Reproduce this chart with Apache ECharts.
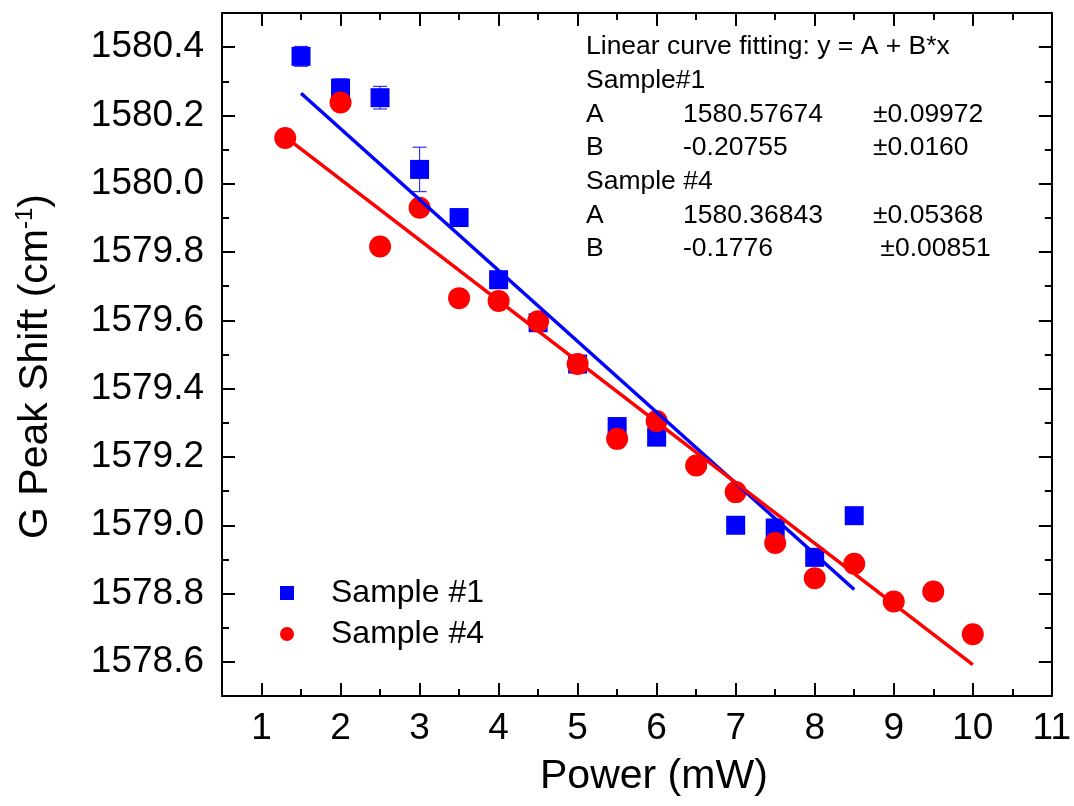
<!DOCTYPE html>
<html>
<head>
<meta charset="utf-8">
<title>G Peak Shift vs Power</title>
<script src="https://cdn.jsdelivr.net/npm/echarts@6/dist/echarts.min.js"></script>
<style>
  html, body { margin: 0; padding: 0; background: #fff; }
  #chart { width: 1074px; height: 806px; }
</style>
</head>
<body>
<div id="chart"></div>
<script>
// power (mW) and G peak position (cm-1)
const s1Power = [1.5, 2, 2.5, 3, 3.5, 4, 4.5, 5, 5.5, 6, 7, 7.5, 8, 8.5];
const s1Shift = [1580.373, 1580.280, 1580.252, 1580.042, 1579.901, 1579.719, 1579.593, 1579.472, 1579.289, 1579.258, 1579.000, 1578.992, 1578.906, 1579.028];
const s1Err = [0.029, 0.027, 0.033, 0.065, 0.01, 0.01, 0.02, 0.022, 0.02, 0.015, 0.01, 0.02, 0.015, 0.01];

const s4Power = [1.3, 2, 2.5, 3, 3.5, 4, 4.5, 5, 5.5, 6, 6.5, 7, 7.5, 8, 8.5, 9, 9.5, 10];
const s4Shift = [1580.134, 1580.238, 1579.816, 1579.930, 1579.665, 1579.657, 1579.597, 1579.472, 1579.253, 1579.305, 1579.175, 1579.097, 1578.948, 1578.845, 1578.887, 1578.777, 1578.806, 1578.681];

// fitted line end points
const s1FitX = [1.5, 8.5];
const s1FitY = [1580.265, 1578.812];
const s4FitX = [1.3, 10];
const s4FitY = [1580.137, 1578.592];

// tick positions
const xMajor = [1, 2, 3, 4, 5, 6, 7, 8, 9, 10, 11];
const xMinor = [1.5, 2.5, 3.5, 4.5, 5.5, 6.5, 7.5, 8.5, 9.5, 10.5];
const yMajor = [1578.6, 1578.8, 1579.0, 1579.2, 1579.4, 1579.6, 1579.8, 1580.0, 1580.2, 1580.4];
const yMinor = [1578.7, 1578.9, 1579.1, 1579.3, 1579.5, 1579.7, 1579.9, 1580.1, 1580.3];

// fit results text
const fitTitle = 'Linear curve fitting: y = A + B*x';
const fitRows = [
  ['Sample#1', '', ''],
  ['A', '1580.57674', '±0.09972'],
  ['B', '-0.20755', '±0.0160'],
  ['Sample #4', '', ''],
  ['A', '1580.36843', '±0.05368'],
  ['B', '-0.1776', ' ±0.00851']
];

const FONT = '"Liberation Sans", Arial, sans-serif';
const pair = (xs, ys) => xs.map((x, i) => [x, ys[i]]);

const chart = echarts.init(document.getElementById('chart'));

const axisBase = (pos, vals, len, showLine) => ({
  type: 'value',
  position: pos,
  min: pos === 'bottom' || pos === 'top' ? 0.5 : 1578.5,
  max: pos === 'bottom' || pos === 'top' ? 11 : 1580.5,
  splitLine: { show: false },
  axisLine: { show: showLine, onZero: false, lineStyle: { color: '#000', width: 2 } },
  axisTick: { show: true, inside: true, length: len, customValues: vals, lineStyle: { color: '#000', width: 2 } },
  axisLabel: { show: false }
});

const xMain = axisBase('bottom', xMajor, 13, true);
xMain.axisLabel = {
  show: true, customValues: xMajor, margin: 14,
  color: '#000', fontSize: 37, fontFamily: FONT
};
xMain.name = 'Power (mW)';
xMain.nameLocation = 'middle';
xMain.nameGap = 60;
xMain.nameTextStyle = { color: '#000', fontSize: 41, fontFamily: FONT, padding: [0, 0, 0, 34] };

const yMain = axisBase('left', yMajor, 13, true);
yMain.axisLabel = {
  show: true, customValues: yMajor, margin: 18,
  color: '#000', fontSize: 37, fontFamily: FONT,
  formatter: (v) => v.toFixed(1)
};
yMain.name = '{t|G Peak Shift (cm}{s|-1}{t|)}';
yMain.nameLocation = 'middle';
yMain.nameGap = 163;
yMain.nameTextStyle = {
  color: '#000', fontFamily: FONT, padding: [0, 24, 0, 0],
  rich: {
    t: { fontSize: 41, fontFamily: FONT, color: '#000', lineHeight: 46 },
    s: { fontSize: 24, fontFamily: FONT, color: '#000', lineHeight: 22, verticalAlign: 'top' }
  }
};

const annoSize = 26.5;

chart.setOption({
  backgroundColor: '#fff',
  animation: false,
  grid: { left: 222, right: 22, top: 13, bottom: 110 },
  xAxis: [
    xMain,
    axisBase('bottom', xMinor, 7, false),
    axisBase('top', xMajor, 13, true),
    axisBase('top', xMinor, 7, false)
  ],
  yAxis: [
    yMain,
    axisBase('left', yMinor, 7, false),
    axisBase('right', yMajor, 13, true),
    axisBase('right', yMinor, 7, false)
  ],
  legend: {
    data: ['Sample #1', 'Sample #4'],
    orient: 'vertical',
    left: 275,
    top: 572,
    itemWidth: 14,
    itemHeight: 14,
    itemGap: 9,
    textStyle: { color: '#000', fontSize: 32, fontFamily: FONT, padding: [0, 0, 0, 32] }
  },
  graphic: [
    {
      type: 'text', left: 586, top: 33,
      style: { text: fitTitle, fontSize: annoSize, fontFamily: FONT, fill: '#000' }
    }
  ].concat(fitRows.flatMap((row, i) => [
    { type: 'text', left: 586, top: 67 + i * 33.7, style: { text: row[0], fontSize: annoSize, fontFamily: FONT, fill: '#000' } },
    { type: 'text', left: 683, top: 67 + i * 33.7, style: { text: row[1], fontSize: annoSize, fontFamily: FONT, fill: '#000' } },
    { type: 'text', left: 873, top: 67 + i * 33.7, style: { text: row[2], fontSize: annoSize, fontFamily: FONT, fill: '#000' } }
  ])),
  series: [
    {
      name: 's1 error',
      type: 'custom',
      z: 1,
      data: s1Power.map((x, i) => [x, s1Shift[i], s1Err[i]]),
      renderItem: (params, api) => {
        const x = api.value(0), y = api.value(1), e = api.value(2);
        const top = api.coord([x, y + e]);
        const bot = api.coord([x, y - e]);
        const w = 7;
        const st = { stroke: '#3030ff', lineWidth: 1.2 };
        return {
          type: 'group',
          children: [
            { type: 'line', shape: { x1: top[0], y1: top[1], x2: bot[0], y2: bot[1] }, style: st },
            { type: 'line', shape: { x1: top[0] - w, y1: top[1], x2: top[0] + w, y2: top[1] }, style: st },
            { type: 'line', shape: { x1: bot[0] - w, y1: bot[1], x2: bot[0] + w, y2: bot[1] }, style: st }
          ]
        };
      }
    },
    {
      name: 'Sample #1',
      type: 'scatter',
      symbol: 'rect',
      symbolSize: 19,
      itemStyle: { color: '#0000ff', opacity: 1 },
      data: pair(s1Power, s1Shift),
      z: 2
    },
    {
      name: 'Sample #4',
      type: 'scatter',
      symbol: 'circle',
      symbolSize: 22,
      itemStyle: { color: '#ff0000', opacity: 1 },
      data: pair(s4Power, s4Shift),
      z: 3
    },
    {
      name: 's1 fit',
      type: 'line',
      data: pair(s1FitX, s1FitY),
      showSymbol: false,
      lineStyle: { color: '#0000ff', width: 3.5 },
      z: 5
    },
    {
      name: 's4 fit',
      type: 'line',
      data: pair(s4FitX, s4FitY),
      showSymbol: false,
      lineStyle: { color: '#ff0000', width: 3.5 },
      z: 5
    }
  ]
});
</script>
</body>
</html>
